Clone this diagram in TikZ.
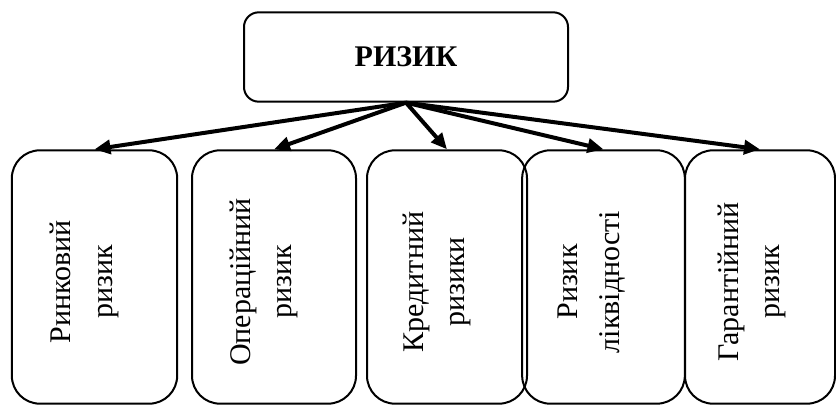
\documentclass[tikz,border=0pt]{standalone}
\usepackage{fontspec}
\setmainfont{Liberation Serif}
\usetikzlibrary{arrows.meta}

\begin{document}
\begin{tikzpicture}[x=0.75pt, y=-0.75pt,
    topbox/.style={draw, line width=1.5pt, rounded corners=11pt,
      minimum width=243pt, minimum height=67pt},
    riskbox/.style={draw, line width=1.5pt, rounded corners=21pt,
      minimum height=190pt, inner sep=0pt},
    vtext/.style={rotate=90, align=center, inner sep=0pt},
    riskarrow/.style={line width=3pt, -{Triangle[length=12pt, width=10.5pt]}}]
  \useasboundingbox (0,0) rectangle (836,406);
  \fontsize{22.5}{31}\selectfont

  % верхній блок
  \node[topbox, font=\bfseries] (rysyk) at (406,57) {РИЗИК};

  % нижні блоки
  \node[riskbox, minimum width=124pt]   (rynk) at (94.5,277) {};
  \node[riskbox, minimum width=123pt]   (oper) at (274,277)  {};
  \node[riskbox, minimum width=120pt]   (kred) at (447,277)  {};
  \node[riskbox, minimum width=122pt]   (likv) at (603.5,277) {};
  \node[riskbox, minimum width=112.5pt] (hrnt) at (760,277)  {};

  % підписи (текст повернуто)
  \node[vtext] at ([shift={(-10,5)}]rynk.center) {Ринковий\\ризик};
  \node[vtext] at ([shift={(-10,5)}]oper.center) {Операційний\\ризик};
  \node[vtext] at ([shift={(-10,5)}]kred.center) {Кредитний\\ризики};
  \node[vtext] at ([shift={(-12,5)}]likv.center) {Ризик\\ліквідності};
  \node[vtext] at ([shift={(-8,5)}]hrnt.center)  {Гарантійний\\ризик};

  % стрілки
  \foreach \b in {rynk, oper, kred, likv, hrnt} {
    \draw[riskarrow] (rysyk.south) -- (\b.north);
  }
\end{tikzpicture}
\end{document}
